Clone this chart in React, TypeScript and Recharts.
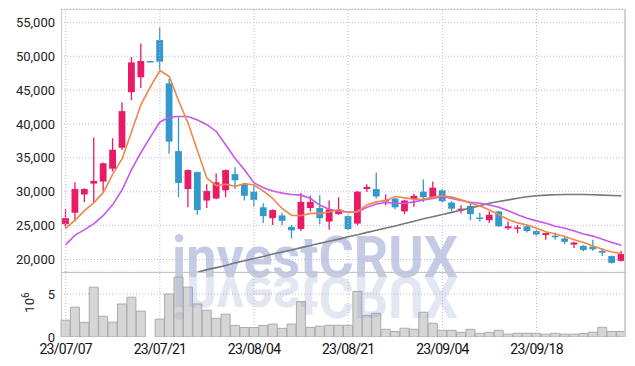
import React from "react"
import { ComposedChart, Bar, Line, XAxis, YAxis, CartesianGrid, ReferenceLine } from "recharts"

const dates = [
  "23/07/07", "23/07/10", "23/07/11", "23/07/12", "23/07/13", "23/07/14", "23/07/17", "23/07/18", "23/07/19", "23/07/20",
  "23/07/21", "23/07/24", "23/07/25", "23/07/26", "23/07/27", "23/07/28", "23/07/31", "23/08/01", "23/08/02", "23/08/03",
  "23/08/04", "23/08/07", "23/08/08", "23/08/09", "23/08/10", "23/08/11", "23/08/14", "23/08/16", "23/08/17", "23/08/18",
  "23/08/21", "23/08/22", "23/08/23", "23/08/24", "23/08/25", "23/08/28", "23/08/29", "23/08/30", "23/08/31", "23/09/01",
  "23/09/04", "23/09/05", "23/09/06", "23/09/07", "23/09/08", "23/09/11", "23/09/12", "23/09/13", "23/09/14", "23/09/15",
  "23/09/18", "23/09/19", "23/09/20", "23/09/21", "23/09/22", "23/09/25", "23/09/26", "23/09/27", "23/10/04", "23/10/05",
]
const labelDates = ["23/07/07", "23/07/21", "23/08/04", "23/08/21", "23/09/04", "23/09/18"]

const opens = [
  25200, 26900, 29600, 31200, 31500, 33400, 36500, 44700, 46900, 49300,
  52400, 46000, 36000, 30400, 32900, 28700, 29000, 30200, 32600, 31100,
  30000, 27700, 26100, 26500, 24800, 24500, 27600, 27600, 25600, 26700,
  26400, 25300, 30400, 30400, 28600, 29000, 27100, 28900, 30000, 29200,
  30200, 28400, 27200, 27900, 26200, 25800, 27100, 24600, 24550, 24900,
  24200, 23600, 23500, 23100, 22200, 22000, 21900, 21250, 20500, 19800,
]
const highs = [
  27400, 31400, 30500, 38000, 34300, 37900, 43200, 49900, 51900, 49300,
  54300, 46700, 41000, 33300, 33000, 31100, 32700, 33300, 33600, 31200,
  30900, 28300, 27400, 26900, 25100, 29800, 29400, 29500, 28700, 29200,
  26500, 30100, 31100, 32800, 29600, 29100, 28800, 29700, 31800, 31500,
  30400, 28600, 28000, 28500, 26900, 27100, 27200, 25600, 25100, 25000,
  24300, 24000, 24000, 23500, 22600, 22100, 22900, 21650, 20600, 21300,
]
const lows = [
  24600, 25600, 28500, 28500, 30000, 33000, 36200, 43500, 45300, 49300,
  48000, 35600, 29200, 27700, 26600, 27600, 28900, 29200, 30400, 28700,
  27800, 25400, 25100, 25100, 23100, 24200, 27100, 25200, 24400, 26600,
  24300, 25100, 30000, 29000, 28000, 27400, 26700, 27800, 28500, 29100,
  28500, 27100, 26800, 25800, 25600, 25400, 24800, 24400, 23900, 24000,
  23400, 22900, 22900, 22300, 21700, 21200, 21300, 20500, 19400, 19700,
]
const closes = [
  26100, 30400, 30400, 31600, 34200, 36200, 41900, 49100, 49300, 49300,
  49200, 37400, 31300, 33200, 27300, 30100, 31400, 33200, 31700, 29400,
  28800, 26400, 27300, 25700, 24300, 28500, 28500, 26100, 27400, 27300,
  24500, 30000, 30700, 29300, 28800, 27700, 28700, 29400, 29200, 30600,
  28600, 27500, 27500, 26700, 26000, 26600, 24900, 24900, 24750, 24200,
  23700, 23900, 23300, 22600, 22500, 21400, 21500, 21000, 19500, 20800,
]

// moving averages
const ma5 = [
  24600, 25800, 27200, 28400, 29900, 32600, 34900, 38900, 42900, 45500,
  47900, 47000, 43400, 40100, 36000, 32000, 30900, 31100, 30800, 31200,
  31000, 30100, 29000, 27500, 26500, 26500, 26800, 26800, 27000, 27400,
  26900, 27100, 28100, 28500, 28700, 29300, 29100, 28900, 28900, 29200,
  29400, 29200, 28800, 28300, 27900, 27300, 26600, 25900, 25400, 25100,
  24600, 24100, 23750, 23400, 22900, 22500, 22000, 21500, 21100, 20900,
]
const ma20 = [
  22200, 23600, 24400, 25300, 26500, 28100, 30300, 33300, 35800, 38100,
  40300, 41000, 41100, 41100, 40600, 39900, 38900, 36900, 34900, 33200,
  31300, 30600, 30100, 29800, 29600, 29500, 29000, 28000, 27400, 27100,
  27000, 27000, 27700, 28200, 28400, 28300, 28300, 28500, 28800, 29000,
  29300, 29000, 28700, 28450, 28300, 28050, 27700, 27200, 26600, 26100,
  25700, 25350, 24900, 24600, 24200, 23750, 23450, 23000, 22500, 22100,
]
const ma60 = [
  null, null, null, null, null, null, null, null, null, null,
  null, null, null, null, 18100, 18500, 18800, 19100, 19500, 19800,
  20150, 20450, 20800, 21100, 21400, 21750, 22050, 22400, 22700, 23000,
  23350, 23650, 24000, 24300, 24650, 24950, 25300, 25650, 26000, 26300,
  26650, 26950, 27300, 27600, 27950, 28300, 28550, 28800, 29050, 29250,
  29400, 29500, 29550, 29600, 29600, 29600, 29550, 29500, 29450, 29400,
]

// volume in millions of shares
const volumes = [
  1.95, 3.47, 1.7, 5.8, 2.41, 1.73, 3.84, 4.63, 3.01, 0,
  2.08, 5.0, 6.96, 5.8, 3.84, 3.12, 2.18, 2.66, 1.35, 1.1,
  1.1, 1.35, 1.5, 1.0, 1.5, 4.12, 1.12, 1.26, 1.36, 1.36,
  1.36, 5.3, 2.51, 2.76, 0.9, 0.64, 1.02, 0.9, 2.88, 1.6,
  0.78, 0.78, 0.54, 0.89, 0.43, 0.54, 0.78, 0.33, 0.43, 0.43,
  0.43, 0.33, 0.43, 0.33, 0.33, 0.4, 0.55, 1.13, 0.64, 0.64,
]

const priceTicks = [20000, 25000, 30000, 35000, 40000, 45000, 50000, 55000]
const volumeTicks = [0, 5]

const UP = "#e81c66"
const DOWN = "#3399cc"
const GRID = "#b9bdd8"

const rows = dates.map((date, i) => ({
  date,
  open: opens[i],
  high: highs[i],
  low: lows[i],
  close: closes[i],
  range: [lows[i], highs[i]],
  ma5: ma5[i],
  ma20: ma20[i],
  ma60: ma60[i],
  volume: volumes[i],
}))

function Candle(props: any) {
  const { x, y, width, height, payload } = props
  if (x == null || y == null) return null
  const { open, close, high, low } = payload
  const color = close > open ? UP : DOWN
  const top = Math.min(y, y + height)
  const h = Math.abs(height)
  const span = high - low
  const toY = (v: number) => (span === 0 ? top : top + ((high - v) / span) * h)
  const cx = x + width / 2
  const bw = 6.8
  const bTop = toY(Math.max(open, close))
  const bBot = toY(Math.min(open, close))
  return (
    <g>
      <line x1={cx} x2={cx} y1={top} y2={top + h} stroke={color} strokeWidth={1.3} />
      <rect x={cx - bw / 2} y={bTop} width={bw} height={Math.max(bBot - bTop, 1.5)} fill={color} />
    </g>
  )
}

const axisFont = { fontSize: 13, fill: "#222", fontFamily: "Roboto, sans-serif" }

function UnitLabel(props: any) {
  const { viewBox } = props
  const cx = viewBox.x + 34
  const cy = viewBox.y + viewBox.height / 2 - 2
  return (
    <text transform={`translate(${cx},${cy}) rotate(-90)`} textAnchor="middle" fontFamily="Roboto, sans-serif" fontSize={13} fill="#222">
      10<tspan fontSize={10} dy={-5}>6</tspan>
    </text>
  )
}

export default function App() {
  return (
    <div style={{ position: "absolute", left: 0, top: 0, width: 635, height: 366, background: "#fff" }}>
      <div style={{ position: "absolute", left: 0, top: 272 }}>
        <ComposedChart width={635} height={94} data={rows} margin={{ top: 0, right: 9, bottom: 0, left: 0 }} barCategoryGap={0} barGap={0}>
          <CartesianGrid vertical={false} horizontalValues={[5]} stroke={GRID} strokeDasharray="1 2" />
          <XAxis
            dataKey="date"
            ticks={labelDates}
            height={29}
            axisLine={false}
            tickLine={false}
            tickSize={7}
            tickMargin={0}
            tick={{ fontSize: 14, fill: "#111", fontFamily: "Roboto, sans-serif", letterSpacing: -0.8 }}
          />
          <YAxis
            width={61}
            domain={[0, 7.56]}
            ticks={volumeTicks}
            allowDataOverflow
            axisLine={false}
            tickLine={false}
            tickSize={6}
            tickMargin={0}
            tick={axisFont}
            label={<UnitLabel />}
          />
          {labelDates.map((d) => (
            <ReferenceLine key={d} x={d} stroke={GRID} strokeDasharray="1 2" />
          ))}
          <Bar dataKey="volume" fill="#d6d6d6" stroke="#ababab" strokeWidth={1} isAnimationActive={false} />
        </ComposedChart>
      </div>

      <svg width={635} height={366} style={{ position: "absolute", left: 0, top: 0, pointerEvents: "none" }}>
        <g fontFamily="Roboto, sans-serif" fontWeight="bold" fontSize={58}>
          <text x={172} y={277} textLength={286} lengthAdjust="spacingAndGlyphs" fill="#8793c9" opacity={0.48}>
            investCRUX
          </text>
          <text
            x={172}
            y={277}
            textLength={286}
            lengthAdjust="spacingAndGlyphs"
            fill="#8793c9"
            opacity={0.22}
            transform="translate(0,554) scale(1,-1)"
          >
            investCRUX
          </text>
        </g>
      </svg>

      <div style={{ position: "absolute", left: 0, top: 0 }}>
        <ComposedChart width={635} height={272} data={rows} margin={{ top: 9, right: 9, bottom: 0, left: 0 }} barCategoryGap={0} barGap={0}>
          <CartesianGrid vertical={false} stroke={GRID} strokeDasharray="1 2" />
          <XAxis dataKey="date" hide />
          <YAxis
            width={61}
            domain={[18150, 56980]}
            ticks={priceTicks}
            allowDataOverflow
            axisLine={false}
            tickLine={false}
            tickSize={6}
            tickMargin={0}
            tick={axisFont}
            tickFormatter={(v: number) => v.toLocaleString("en-US")}
          />
          {labelDates.map((d) => (
            <ReferenceLine key={d} x={d} stroke={GRID} strokeDasharray="1 2" />
          ))}
          <Bar dataKey="range" shape={<Candle />} isAnimationActive={false} />
          <Line dataKey="ma60" stroke="#777" strokeWidth={1.6} dot={false} isAnimationActive={false} />
          <Line dataKey="ma20" stroke="#c957ec" strokeWidth={1.6} dot={false} isAnimationActive={false} />
          <Line dataKey="ma5" stroke="#f0874d" strokeWidth={1.6} dot={false} isAnimationActive={false} />
        </ComposedChart>
      </div>

      <div
        style={{
          position: "absolute",
          left: 61,
          top: 9,
          width: 565,
          height: 328,
          boxSizing: "border-box",
          borderTop: "1px solid #d2d2d2",
          borderLeft: "1px solid #c8c8c8",
          borderRight: "2px solid #d2d2d2",
          pointerEvents: "none",
        }}
      />
      <div style={{ position: "absolute", left: 61, top: 272, width: 565, borderTop: "1px solid #c4c4c4", pointerEvents: "none" }} />
    </div>
  )
}
